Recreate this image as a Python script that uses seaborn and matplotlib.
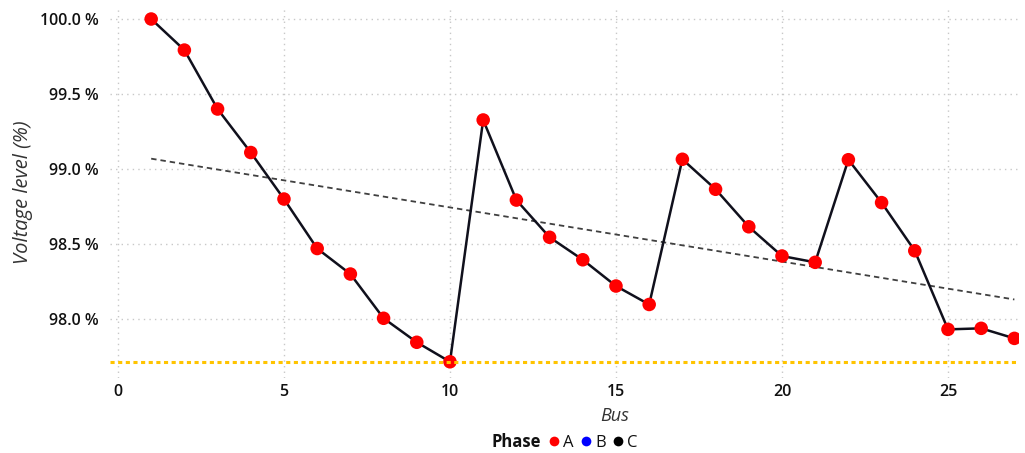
import numpy as np
import pandas as pd
import matplotlib
matplotlib.use("Agg")
import matplotlib.pyplot as plt
from matplotlib.lines import Line2D
from matplotlib.ticker import FuncFormatter
import seaborn as sns

# Voltage level per bus (phase A), in percent
bus = list(range(1, 28))
voltage_a = [100.00, 99.793, 99.40, 99.11, 98.80, 98.47, 98.30, 98.005, 97.845, 97.715,
             99.327, 98.793, 98.545, 98.395, 98.22, 98.097, 99.065, 98.865, 98.615, 98.42,
             98.378, 99.062, 98.776, 98.455, 97.931, 97.938, 97.871]
phases = ["A", "B", "C"]
phase_colors = ["#FF0000", "#0000FF", "#000000"]
x_ticks = [0, 5, 10, 15, 20, 25]
y_ticks = [98.0, 98.5, 99.0, 99.5, 100.0]

df = pd.DataFrame({"Bus": bus, "Voltage": voltage_a, "Phase": "A"})

sns.set_theme(style="white")
plt.rcParams["font.family"] = ["Open Sans", "DejaVu Sans"]

fig = plt.figure(figsize=(10.25, 4.53), dpi=100)
ax = fig.add_axes([0.107, 0.1656, 0.8875, 0.8156])

# connecting line and markers
sns.lineplot(data=df, x="Bus", y="Voltage", color="#10101c", linewidth=1.8,
             ax=ax, legend=False, zorder=3)
sns.scatterplot(data=df, x="Bus", y="Voltage", hue="Phase", hue_order=phases,
                palette=dict(zip(phases, phase_colors)), s=95, edgecolor="none",
                ax=ax, legend=False, zorder=4)

# linear trend
coef = np.polyfit(bus, voltage_a, 1)
trend = np.polyval(coef, [bus[0], bus[-1]])
ax.plot([bus[0], bus[-1]], trend, color="#404040", linewidth=1.3,
        linestyle=(0, (3.0, 2.2)), zorder=2)

# minimum voltage reference line
ax.axhline(min(voltage_a), color="#FFC400", linewidth=2.2,
           linestyle=(0, (1.35, 1.15)), zorder=5)

ax.set_xlim(-0.25, 27.15)
ax.set_ylim(97.607, 100.07)
ax.set_xticks(x_ticks)
ax.set_yticks(y_ticks)
ax.yaxis.set_major_formatter(FuncFormatter(lambda v, p: f"{v:.1f} %"))

ax.grid(True, color="#c8c8c8", linestyle=(0, (1, 3)), linewidth=1)
for s in ax.spines.values():
    s.set_visible(False)
ax.tick_params(axis="both", length=0, labelsize=11.5, colors="#111111")
ax.tick_params(axis="y", pad=8)
ax.tick_params(axis="x", pad=4)
for lab in ax.get_xticklabels() + ax.get_yticklabels():
    lab.set_fontweight("semibold")

ax.set_xlabel("Bus", fontsize=13, fontstyle="italic", color="#333333")
ax.xaxis.set_label_coords(0.555, -0.078)
ax.set_ylabel("Voltage level (%)", fontsize=14.5, fontstyle="italic", color="#333333")
ax.yaxis.set_label_coords(-0.0843, 0.503)

# legend row below the axes
handles = [Line2D([], [], linestyle="none", marker=None)]
labels = ["Phase"]
for name, col in zip(phases, phase_colors):
    handles.append(Line2D([], [], linestyle="none", marker="o", markersize=7,
                          markerfacecolor=col, markeredgecolor="none"))
    labels.append(name)
leg = fig.legend(handles, labels, loc="center", bbox_to_anchor=(0.544, 0.024),
                 ncol=4, frameon=False, handlelength=0.6, handletextpad=0.25,
                 columnspacing=0.45, fontsize=12)
for t in leg.get_texts():
    t.set_color("#111111")
leg.get_texts()[0].set_fontweight("bold")

fig.savefig("out.png", dpi=100)
